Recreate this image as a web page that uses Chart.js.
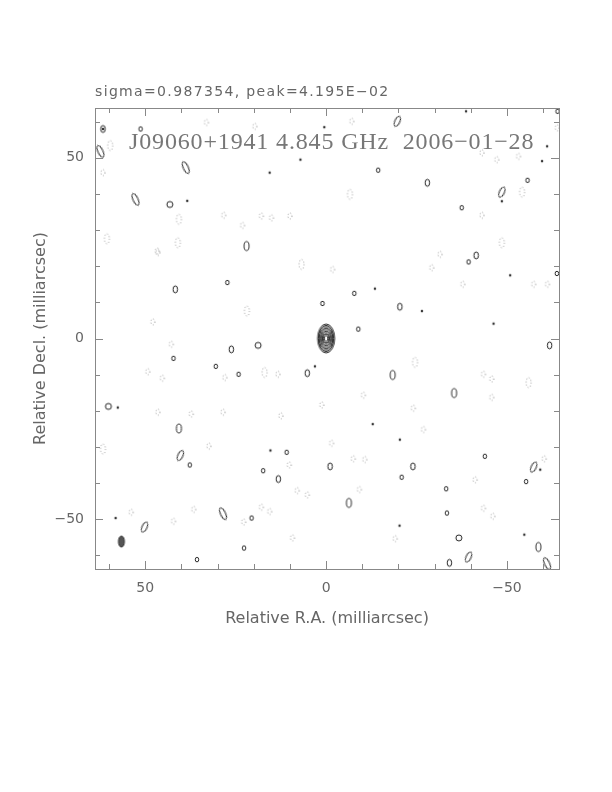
<!DOCTYPE html>
<html>
<head>
<meta charset="utf-8">
<script src="https://cdn.jsdelivr.net/npm/chart.js@4.4.1/dist/chart.umd.min.js"></script>
<style>
  html, body { margin: 0; padding: 0; background: #fff; }
  #wrap { position: relative; width: 612px; height: 792px; }
  #map { position: absolute; left: 0; top: 0; }
  .lbl { position: absolute; white-space: pre; color: #666; }
  #sigma { left: 95px; top: 83px; font-size: 14px; font-family: "DejaVu Sans"; letter-spacing: 1.35px; }
  #src { left: 129px; top: 128px; font-size: 24px; font-family: "Liberation Serif"; letter-spacing: 0.85px; color: #777; }
</style>
</head>
<body>
<div id="wrap">
  <canvas id="map" width="612" height="792"></canvas>
  <div id="sigma" class="lbl">sigma=0.987354, peak=4.195E−02</div>
  <div id="src" class="lbl">J09060+1941 4.845 GHz  2006−01−28</div>
</div>
<script>
// axis ranges (mas) and labelled ticks
var raRange = [-64.4, 63.9];
var decRange = [-63.8, 63.8];
var majorTicks = [-50, 0, 50];

// contour positions [RA offset, Dec offset] in mas, grouped by size
var posDots = [[38.4,38.1],[0.5,58.5],[7.1,49.5],[-38.7,62.9],[-61.1,53.2],[-48.6,38.0],[-59.7,49.1],
    [-13.5,13.8],[-26.5,7.6],[-46.3,4.1],[57.6,-19.1],[3.1,-7.7],[15.4,-31.0],[58.2,-49.7],
    [-12.9,-23.7],[-20.4,-28.0],[-59.2,-36.3],[-54.8,-54.3],[-20.3,-51.8],[-50.9,17.5],[15.6,45.9],[61.7,58.0]];
var posSmall = [[51.3,58.0],[-64.0,62.9],[-14.4,46.6],[-55.7,43.8],[-37.5,36.2],[-39.4,21.2],[-63.8,18.0],
    [-7.8,12.5],[1.0,9.7],[-8.9,2.6],[27.3,15.5],[42.2,-5.5],[30.5,-7.7],[24.2,-9.9],[10.9,-31.5],
    [17.4,-36.6],[22.7,-58.0],[35.7,-61.2],[-43.9,-32.6],[-33.2,-41.6],[-33.4,-48.3],[-55.3,-39.6],
    [-20.9,-38.4],[20.6,-49.7],[37.7,-35.0]];
var posMedium = [[41.7,13.6],[26.2,-3.0],[5.2,-9.6],[-20.4,8.8],[-28.0,43.1],[-41.5,23.0],[-61.8,-1.9],
    [13.2,-38.9],[-24.0,-35.4],[-1.1,-35.4],[-34.1,-62.1],[61.7,58.0]];
var posRound = [[43.2,37.1],[18.8,-1.9],[60.2,-18.8],[-36.7,-55.2]];
var posLarge = [[22.0,25.6],[40.7,-24.9],[-18.4,-10.1],[-35.4,-15.1],[-6.3,-45.5],[-58.7,-57.7]];
var posLeanRight = [[-19.7,60.1],[-48.6,40.5],[-39.4,-60.5],[-57.4,-35.6],[50.2,-52.2],[40.3,-32.4]];
var posLeanLeft = [[62.4,51.8],[52.7,38.5],[28.5,-48.5],[-61.1,-62.3],[38.8,47.3]];
var negSmall = [[33.1,59.8],[19.7,58.7],[61.7,45.9],[28.3,34.1],[23.1,31.3],[17.9,33.9],[15.1,33.4],
    [10.0,33.9],[46.7,24.2],[-7.1,60.1],[-43.1,51.4],[-47.2,49.5],[-53.2,50.4],[-43.1,34.1],[-31.5,23.3],
    [-63.9,58.3],[46.5,23.8],[47.9,4.6],[42.8,-1.6],[49.3,-9.2],[45.3,-11.0],[28.0,-10.8],[13.3,-9.9],
    [1.2,-18.4],[46.5,-20.4],[37.3,-20.9],[28.5,-20.4],[12.5,-21.4],[-1.8,19.1],[-29.2,19.6],[-37.8,15.0],
    [-57.4,15.0],[-61.2,15.0],[-43.5,-9.9],[-45.8,-11.2],[-10.3,-15.7],[-24.1,-19.3],[-45.8,-16.3],
    [32.4,-29.8],[10.2,-35.0],[53.9,-48.1],[36.6,-47.3],[42.2,-50.6],[17.9,-46.7],[15.6,-47.9],
    [22.8,-50.8],[9.3,-55.2],[8.0,-42.1],[5.2,-43.3],[-1.5,-29.0],[-7.5,-33.3],[-10.7,-33.5],
    [-26.9,-25.2],[-9.2,-41.8],[-41.2,-39.1],[-43.5,-47.0],[-46.1,-49.2],[-60.3,-33.3],[-19.1,-55.4]];
var negLarge = [[59.7,53.4],[40.7,33.0],[60.6,27.6],[41.0,26.5],[-6.6,39.9],[-54.2,40.5],[-48.6,26.5],
    [6.8,20.5],[21.9,7.6],[17.0,-9.4],[-24.6,-6.6],[-56.0,-12.2],[61.7,-30.6]];

// core component: contour levels (multiples of the lowest level)
var corePos = [0, 0];
var coreLevels = [1, 2, 4, 8, 16, 32, 64, 128, 256];
// restoring beam position
var beamPos = [[56.6, -56.2]];

function toXY(list) {
    return list.map(function (p) { return {x: p[0], y: p[1]}; });
}

function ellipseImg(w, h, opt) {
    var c = document.createElement('canvas');
    c.width = Math.ceil(w) + 4;
    c.height = Math.ceil(h) + 4;
    var g = c.getContext('2d');
    g.beginPath();
    g.ellipse(c.width / 2, c.height / 2, w / 2, h / 2, 0, 0, Math.PI * 2);
    if (opt.fill) {
        g.fillStyle = opt.fill;
        g.fill();
    }
    g.strokeStyle = opt.color;
    g.lineWidth = opt.lw || 1;
    if (opt.dash) g.setLineDash(opt.dash);
    g.stroke();
    return c;
}

var solid = '#222';
var dotted = '#999';

function contourSet(list, img, rot) {
    return {
        data: toXY(list),
        pointStyle: img,
        pointRadius: 3,
        pointRotation: rot || 0,
        borderColor: solid,
        backgroundColor: solid
    };
}

var coreImgs = coreLevels.map(function (lv, i) {
    var k = 1 - i / coreLevels.length;
    return ellipseImg(2 + 15 * k, 3 + 26 * k, {color: '#222'});
});

var datasets = [
    contourSet(posDots, ellipseImg(1.5, 2, {color: solid, fill: solid})),
    contourSet(posSmall, ellipseImg(3.5, 4.5, {color: solid})),
    contourSet(posMedium, ellipseImg(4.5, 7, {color: solid})),
    contourSet(posRound, ellipseImg(6, 6, {color: solid})),
    contourSet(posLarge, ellipseImg(5, 9, {color: solid})),
    contourSet(posLeanRight, ellipseImg(5, 11, {color: solid}), 25),
    contourSet(posLeanLeft, ellipseImg(5, 13, {color: solid}), -25),
    contourSet(negSmall, ellipseImg(4, 6, {color: dotted, dash: [1, 2]})),
    contourSet(negLarge, ellipseImg(5, 10, {color: dotted, dash: [1, 2]})),
    {
        data: coreLevels.map(function () { return {x: corePos[0], y: corePos[1]}; }),
        pointStyle: coreImgs,
        pointRadius: 3
    },
    contourSet(beamPos, ellipseImg(6, 11, {color: '#333', fill: '#555'}))
];

// frame plus inward tick marks on all four sides
var frameTicks = {
    id: 'frameTicks',
    afterDraw: function (chart) {
        var ctx = chart.ctx, a = chart.chartArea;
        var xs = chart.scales.x, ys = chart.scales.y;
        ctx.save();
        ctx.strokeStyle = '#888';
        ctx.lineWidth = 1;
        ctx.strokeRect(Math.round(a.left) + 0.5, Math.round(a.top) + 0.5,
            Math.round(a.right - a.left), Math.round(a.bottom - a.top));
        ctx.beginPath();
        xs.ticks.forEach(function (t) {
            var px = Math.round(xs.getPixelForValue(t.value)) + 0.5;
            var len = t.value % 50 === 0 ? 8 : 5;
            ctx.moveTo(px, a.bottom); ctx.lineTo(px, a.bottom - len);
            ctx.moveTo(px, a.top); ctx.lineTo(px, a.top + len);
        });
        ys.ticks.forEach(function (t) {
            var py = Math.round(ys.getPixelForValue(t.value)) + 0.5;
            var len = t.value % 50 === 0 ? 8 : 5;
            ctx.moveTo(a.left, py); ctx.lineTo(a.left + len, py);
            ctx.moveTo(a.right, py); ctx.lineTo(a.right - len, py);
        });
        ctx.stroke();
        ctx.restore();
    }
};

function tickLabel(v) {
    if (majorTicks.indexOf(v) < 0) return '';
    return v < 0 ? '\u2212' + Math.abs(v) : String(v);
}

var axisFont = {family: 'DejaVu Sans', size: 14};
var titleFont = {family: 'DejaVu Sans', size: 16};

new Chart(document.getElementById('map'), {
    type: 'scatter',
    data: {datasets: datasets},
    options: {
        responsive: false,
        animation: false,
        events: [],
        layout: {padding: {left: 31, top: 108, right: 53, bottom: 164}},
        plugins: {
            legend: {display: false},
            tooltip: {enabled: false}
        },
        scales: {
            x: {
                type: 'linear',
                reverse: true,
                min: raRange[0],
                max: raRange[1],
                grid: {display: false, drawTicks: false},
                border: {display: false},
                ticks: {
                    stepSize: 10, includeBounds: false, autoSkip: false, maxRotation: 0,
                    padding: 11, color: '#666', font: axisFont, callback: tickLabel
                },
                title: {display: true, text: 'Relative R.A. (milliarcsec)', color: '#666', font: titleFont, padding: 0},
                afterFit: function (s) { s.height = 59; }
            },
            y: {
                type: 'linear',
                min: decRange[0],
                max: decRange[1],
                grid: {display: false, drawTicks: false},
                border: {display: false},
                ticks: {
                    stepSize: 10, includeBounds: false, autoSkip: false,
                    padding: 11, color: '#666', font: axisFont, callback: tickLabel
                },
                title: {display: true, text: 'Relative Decl. (milliarcsec)', color: '#666', font: titleFont, padding: 0},
                afterFit: function (s) { s.width = 64; }
            }
        }
    },
    plugins: [frameTicks]
});
</script>
</body>
</html>
